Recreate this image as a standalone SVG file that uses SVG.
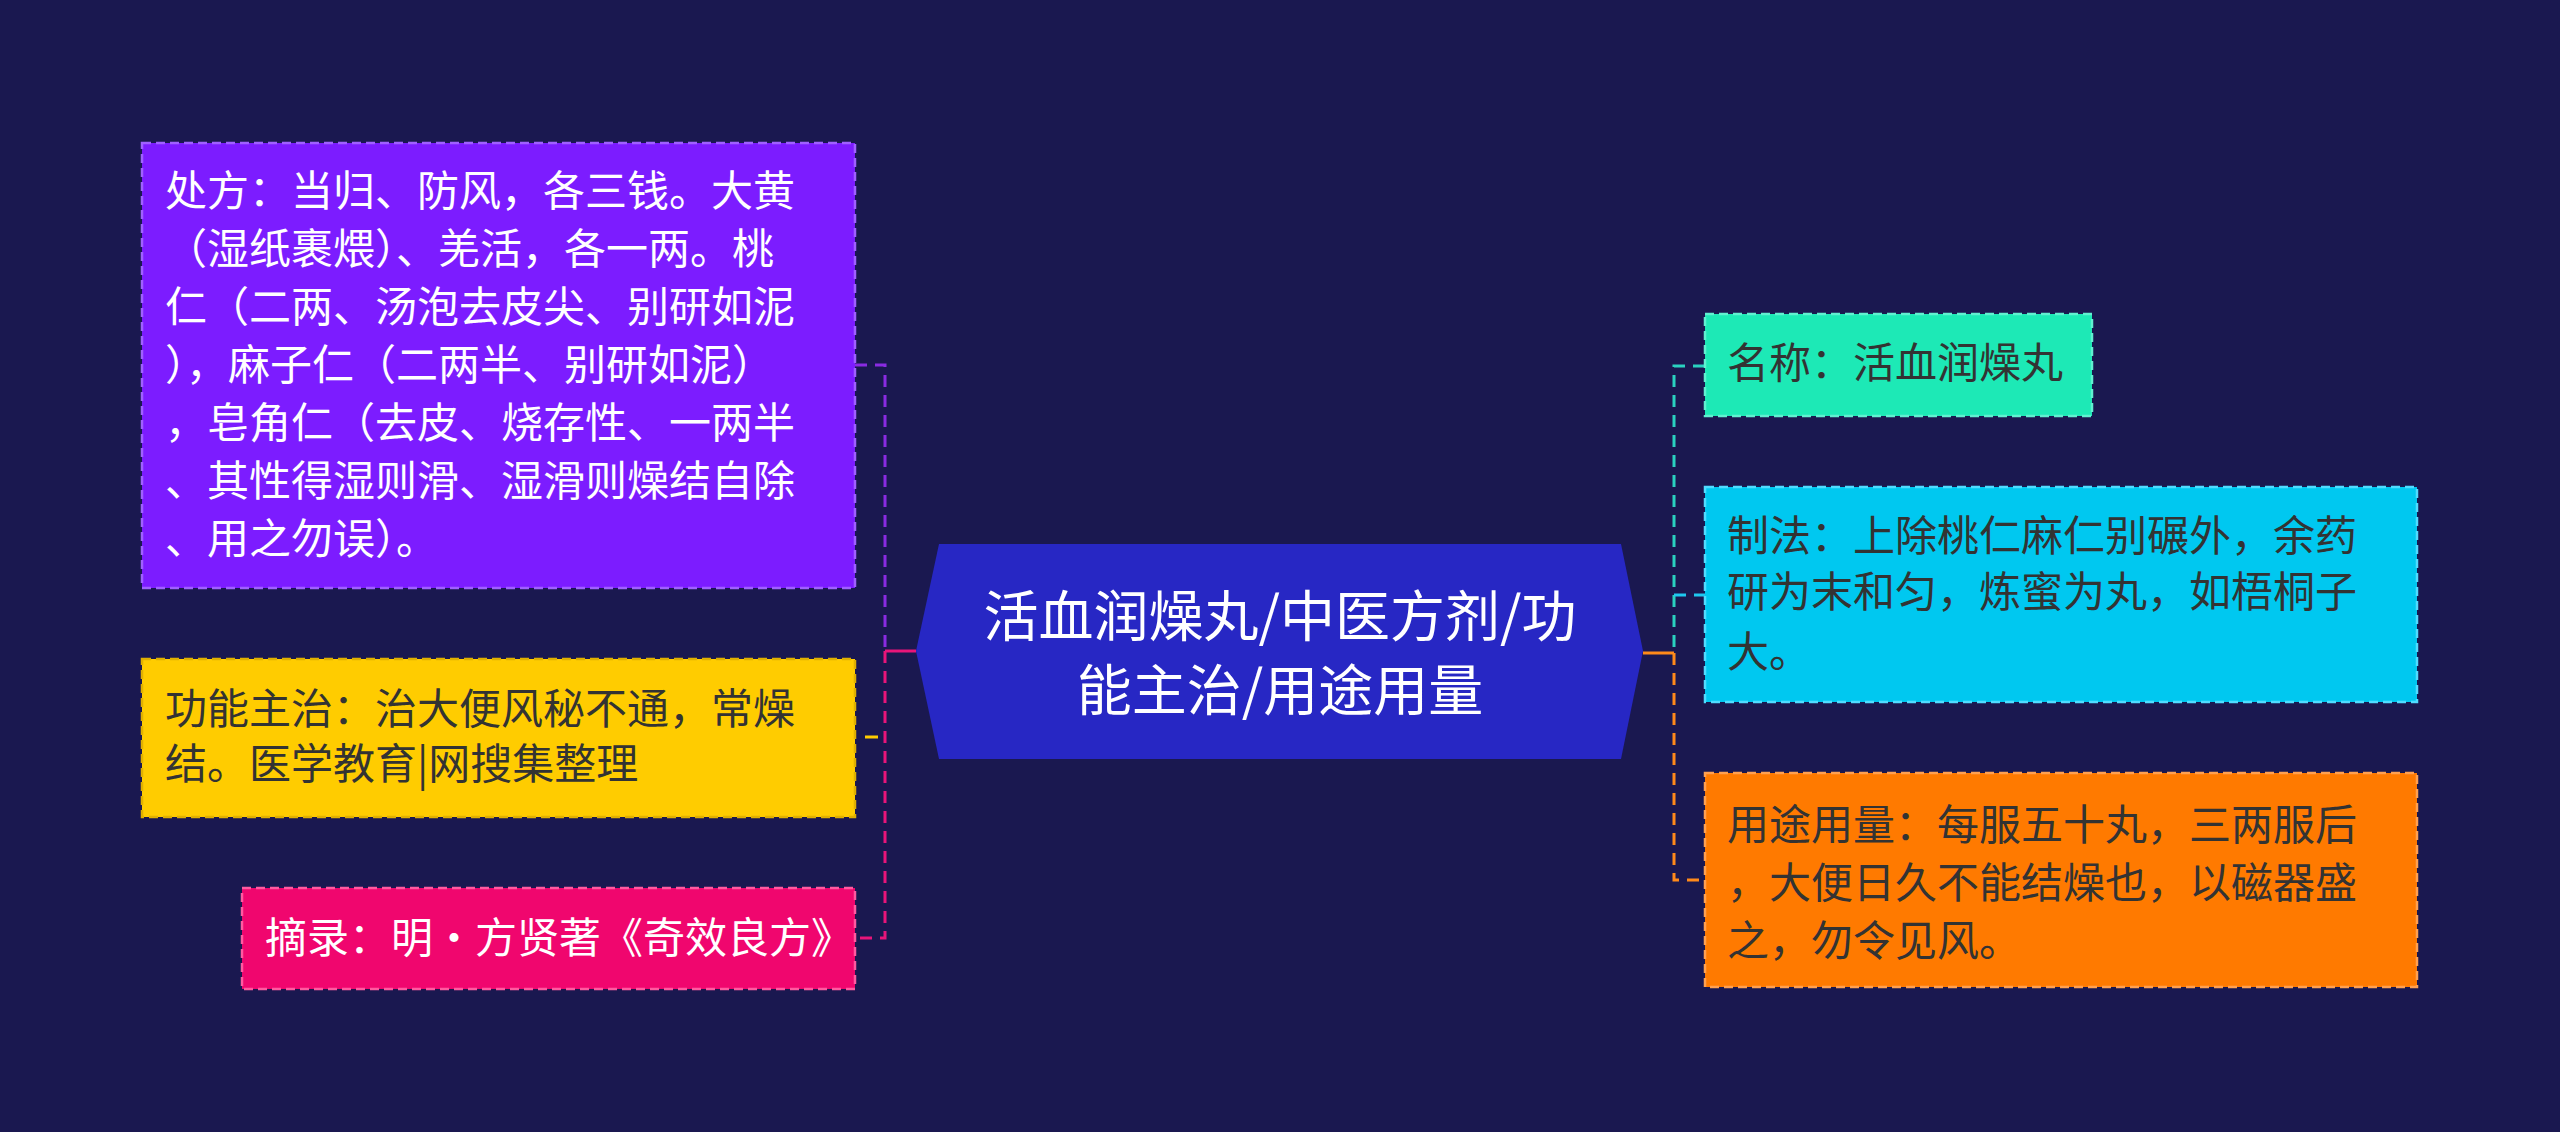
<svg xmlns="http://www.w3.org/2000/svg" width="2560" height="1132" viewBox="0 0 2560 1132">
<style>
text{font-family:"Noto Sans CJK SC","Liberation Sans",sans-serif;font-size:42px}
.w{fill:#ffffff}.d{fill:#333333}
.box{stroke-width:2.5;stroke-dasharray:9 5}
.c{fill:none;stroke-width:3;stroke-dasharray:12 8}
</style>
<rect width="2560" height="1132" fill="#1a1850"/>
<g id="connectors">
<path class="c" stroke="#8a2be2" d="M855 365H885V651"/>
<path class="c" stroke="#e8157a" d="M885 651V938H855"/>
<path d="M885 651H916" stroke="#e8157a" stroke-width="3"/>
<path d="M865 737H878" stroke="#ffcc00" stroke-width="3"/>
<path class="c" stroke="#2ad1c0" d="M1705 366H1674V653"/>
<path class="c" stroke="#ff8a1a" d="M1674 653V880H1705"/>
<path d="M1643 653H1674" stroke="#ff8a1a" stroke-width="3"/>
<path class="c" stroke="#1ec8f0" d="M1674 595H1705"/>
</g>
<g id="center">
<polygon points="939,544 1621,544 1643,651 1621,759 939,759 916,651" fill="#2727c4"/>
<text class="w" x="1280" y="636" text-anchor="middle" style="font-size:55px">活血润燥丸/中医方剂/功</text>
<text class="w" x="1280" y="710" text-anchor="middle" style="font-size:55px">能主治/用途用量</text>
</g>
<g id="n1">
<rect class="box" x="142" y="143" width="713" height="445" fill="#7c1cff" stroke="#a060ff"/>
<text class="w" x="165" y="206">处方：当归、防风，各三钱。大黄</text>
<text class="w" x="165" y="264">（湿纸裹煨）、羌活，各一两。桃</text>
<text class="w" x="165" y="322">仁（二两、汤泡去皮尖、别研如泥</text>
<text class="w" x="165" y="380">），麻子仁（二两半、别研如泥）</text>
<text class="w" x="165" y="438">，皂角仁（去皮、烧存性、一两半</text>
<text class="w" x="165" y="496">、其性得湿则滑、湿滑则燥结自除</text>
<text class="w" x="165" y="554">、用之勿误）。</text>
</g>
<g id="n2">
<rect class="box" x="142" y="659" width="713" height="158" fill="#ffcc00" stroke="#e0b000"/>
<text class="d" x="165" y="724">功能主治：治大便风秘不通，常燥</text>
<text class="d" x="165" y="779">结。医学教育|网搜集整理</text>
</g>
<g id="n3">
<rect class="box" x="242" y="888" width="613" height="101" fill="#f0066e" stroke="#ff5aa0"/>
<text class="w" x="265" y="953">摘录：明·方贤著《奇效良方》</text>
</g>
<g id="n4">
<rect class="box" x="1705" y="314" width="387" height="102" fill="#1de9b6" stroke="#60f0d0"/>
<text class="d" x="1727" y="378">名称：活血润燥丸</text>
</g>
<g id="n5">
<rect class="box" x="1705" y="487" width="712" height="215" fill="#00c8f0" stroke="#50dcff"/>
<text class="d" x="1727" y="551">制法：上除桃仁麻仁别碾外，余药</text>
<text class="d" x="1727" y="607">研为末和匀，炼蜜为丸，如梧桐子</text>
<text class="d" x="1727" y="667">大。</text>
</g>
<g id="n6">
<rect class="box" x="1705" y="773" width="712" height="214" fill="#ff7a00" stroke="#ffa050"/>
<text class="d" x="1727" y="840">用途用量：每服五十丸，三两服后</text>
<text class="d" x="1727" y="898">，大便日久不能结燥也，以磁器盛</text>
<text class="d" x="1727" y="956">之，勿令见风。</text>
</g>
</svg>
